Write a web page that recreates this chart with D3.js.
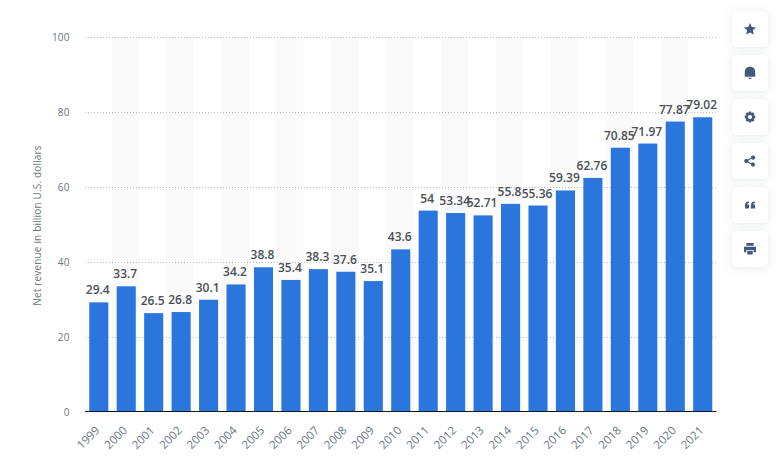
<!DOCTYPE html>
<html><head><meta charset="utf-8">
<script src="https://cdn.jsdelivr.net/npm/d3@7"></script>
<style>
html,body{margin:0;padding:0;background:#fff;overflow:hidden}
svg{display:block;font-family:"Open Sans",sans-serif}
</style></head><body>
<svg id="c" width="778" height="470"></svg>
<script>
const years=["1999","2000","2001","2002","2003","2004","2005","2006","2007","2008","2009","2010","2011","2012","2013","2014","2015","2016","2017","2018","2019","2020","2021"];
const revenue=[29.4,33.7,26.5,26.8,30.1,34.2,38.8,35.4,38.3,37.6,35.1,43.6,54,53.34,52.71,55.8,55.36,59.39,62.76,70.85,71.97,77.87,79.02];
const yTicks=[0,20,40,60,80,100];
const yTitle="Net revenue in billion U.S. dollars";

const svg=d3.select("#c");
const defs=svg.append("defs");
const f=defs.append("filter").attr("id","sh").attr("x","-40%").attr("y","-40%").attr("width","180%").attr("height","180%");
f.append("feDropShadow").attr("dx",0).attr("dy",1).attr("stdDeviation",4).attr("flood-color","#8a9ab5").attr("flood-opacity",.22);

const x=d3.scaleBand().domain(years).range([85,716.5]).paddingInner(.305).paddingOuter(.155);
const y=d3.scaleLinear().domain([0,100]).range([412,39]);
const yGrid=d3.scaleLinear().domain([0,100]).range([412.5,37.5]);
const step=x.step();
const base=411;

// alternating bands
svg.append("g").selectAll("rect").data(years.filter((d,i)=>i%2===1)).join("rect")
  .attr("x",d=>x(d)+x.bandwidth()/2-step/2-1).attr("width",step)
  .attr("y",yGrid(100)).attr("height",base-yGrid(100)).attr("fill","#fafafa");

// grid
svg.append("g").selectAll("line").data(yTicks.filter(d=>d>0)).join("line")
  .attr("x1",85).attr("x2",716.5).attr("y1",d=>yGrid(d)).attr("y2",d=>yGrid(d))
  .attr("stroke","#bdbdbd").attr("stroke-width",1).attr("stroke-dasharray","1 2");

// bars
svg.append("g").selectAll("rect").data(years).join("rect")
  .attr("x",d=>x(d)).attr("width",x.bandwidth())
  .attr("y",(d,i)=>y(revenue[i])).attr("height",(d,i)=>base-y(revenue[i]))
  .attr("fill","#2a76dd");

// baseline
svg.append("line").attr("x1",85).attr("x2",716.5).attr("y1",base+.5).attr("y2",base+.5).attr("stroke","#14171c").attr("stroke-width",1);

// value labels
svg.append("g").selectAll("text").data(years).join("text")
  .attr("x",d=>x(d)+x.bandwidth()/2-1).attr("y",(d,i)=>y(revenue[i])-8)
  .attr("text-anchor","middle").attr("font-size",12).attr("font-weight",600)
  .attr("fill","#4a4f57")
  .text((d,i)=>revenue[i]);

// y tick labels
svg.append("g").selectAll("text").data(yTicks).join("text")
  .attr("x",69.5).attr("y",d=>yGrid(d)+3)
  .attr("text-anchor","end").attr("font-size",10).attr("letter-spacing",".1").attr("fill","#6b7683").text(d=>d);

// x tick labels
svg.append("g").selectAll("text").data(years).join("text")
  .attr("text-anchor","end").attr("font-size",11.5).attr("fill","#6b7683")
  .attr("transform",d=>`translate(${x(d)+x.bandwidth()/2-4.5},425) rotate(-45)`)
  .attr("dy","0.75em")
  .text(d=>d);

// y title
svg.append("text").attr("transform","translate(41,225.5) rotate(-90)").attr("text-anchor","middle")
  .attr("font-size",10).attr("letter-spacing",".17").attr("fill","#6d7a70").text(yTitle);

// side toolbar
const icons=[
 "M0,-7 L2.1,-2.3 L7.2,-1.8 L3.4,1.6 L4.5,6.6 L0,4 L-4.5,6.6 L-3.4,1.6 L-7.2,-1.8 L-2.1,-2.3 Z",
 "M-5.5,4 L-5.5,-1 C-5.5,-4.5 -3,-6.5 0,-6.5 C3,-6.5 5.5,-4.5 5.5,-1 L5.5,4 Z M-1.8,5 L1.8,5 C1.6,7 -1.6,7 -1.8,5 Z",
 "M-1.3,-6.5 L1.3,-6.5 L1.7,-4.8 L3.3,-5.6 L5.2,-3.7 L4.3,-2.2 L6.2,-1.4 L6.2,1.4 L4.3,2.2 L5.2,3.7 L3.3,5.6 L1.7,4.8 L1.3,6.5 L-1.3,6.5 L-1.7,4.8 L-3.3,5.6 L-5.2,3.7 L-4.3,2.2 L-6.2,1.4 L-6.2,-1.4 L-4.3,-2.2 L-5.2,-3.7 L-3.3,-5.6 L-1.7,-4.8 Z M0,-2.4 A2.4,2.4 0 1,0 0,2.4 A2.4,2.4 0 1,0 0,-2.4 Z",
 "M3.5,-6.2 A2.4,2.4 0 1,1 1.6,-2.5 L-1.9,-.7 A2.4,2.4 0 0,1 -1.9,.7 L1.6,2.5 A2.4,2.4 0 1,1 1,3.7 L-2.6,1.8 A2.4,2.4 0 1,1 -2.6,-1.8 L1,-3.7 A2.4,2.4 0 0,1 3.5,-6.2 Z",
 "M-5,3.6 L-5,-.2 C-5,-2.4 -3.4,-3.6 -1,-3.6 L-1,-1.9 C-2.2,-1.9 -2.9,-1.3 -2.9,-.4 L-1,-.4 L-1,3.6 Z M1,3.6 L1,-.2 C1,-2.4 2.6,-3.6 5,-3.6 L5,-1.9 C3.8,-1.9 3.1,-1.3 3.1,-.4 L5,-.4 L5,3.6 Z",
 "M-4,-6.5 L4,-6.5 L4,-3.5 L-4,-3.5 Z M-6.5,-2.5 L6.5,-2.5 L6.5,3.5 L4,3.5 L4,1 L-4,1 L-4,3.5 L-6.5,3.5 Z M-3,2 L3,2 L3,6 L-3,6 Z"
];
const iconScale=[.85,.95,.85,.88,1,.92];
const tb=svg.append("g").selectAll("g").data(icons).join("g")
  .attr("transform",(d,i)=>`translate(750,${29+44*i})`);
tb.append("rect").attr("x",-18).attr("y",-18).attr("width",36).attr("height",36).attr("rx",5)
  .attr("fill","#fff").attr("filter","url(#sh)");
tb.append("path").attr("d",d=>d).attr("transform",(d,i)=>`scale(${iconScale[i]})`).attr("fill","#45597a").attr("fill-rule","evenodd");
</script>
</body></html>
